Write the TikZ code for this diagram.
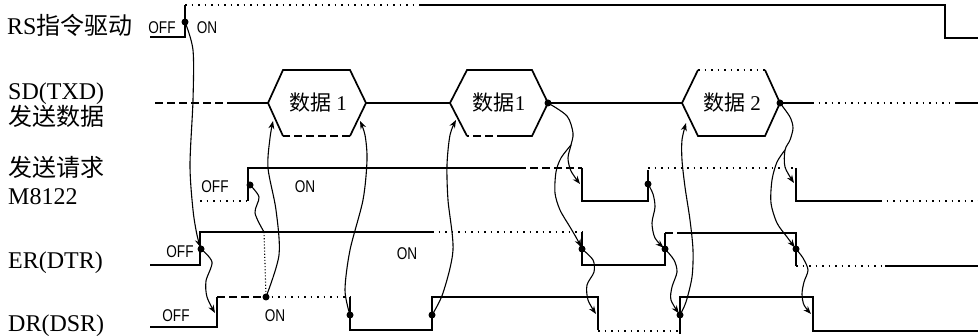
\documentclass[tikz,border=0pt]{standalone}
\usepackage{fontspec}
\setmainfont{Liberation Serif}
\newfontfamily\cjk{Noto Sans CJK SC}
\newfontfamily\sansn[FakeStretch=0.8]{Liberation Sans}
\usetikzlibrary{arrows.meta}
\begin{document}
\begin{tikzpicture}[x=1pt,y=-1pt,
  sig/.style={line width=1.7pt},
  dotsig/.style={line width=1.7pt, dash pattern=on 1.5pt off 5pt},
  dashsig/.style={line width=1.7pt, dash pattern=on 8pt off 4pt},
  conn/.style={line width=1.1pt, -{Stealth[length=8pt,width=6pt]}},
  plainconn/.style={line width=1.1pt},
  dotn/.style={circle, fill=black, inner sep=0pt, minimum size=7pt},
  lab/.style={anchor=base west, inner sep=0pt, font=\fontsize{24}{26}\selectfont},
  st/.style={inner sep=0pt, font=\sansn\fontsize{17}{17}\selectfont},
  dat/.style={inner sep=0pt, font=\fontsize{21}{22}\selectfont}]
\useasboundingbox (0,0) rectangle (978,336);

% ---------- row labels ----------
\node[lab] (lRS) at (7,35) {RS{\cjk 指令驱动}};
\node[lab] (lSD) at (8,100) {SD(TXD)};
\node[lab] (lSD2) at (8,126) {\cjk 发送数据};
\node[lab] (lM) at (8,177) {\cjk 发送请求};
\node[lab] (lM2) at (8,205) {M8122};
\node[lab] (lER) at (8,269) {ER(DTR)};
\node[lab] (lDR) at (8,332) {DR(DSR)};

% ---------- state labels ----------
\node[st] (sRSoff) at (162,28) {OFF};
\node[st] (sRSon) at (207,28) {ON};
\node[st] (sMoff) at (215,187) {OFF};
\node[st] (sMon) at (305,187) {ON};
\node[st] (sERoff) at (180,252) {OFF};
\node[st] (sERon) at (407,254) {ON};
\node[st] (sDRoff) at (176,316) {OFF};
\node[st] (sDRon) at (275,316) {ON};

% ---------- RS ----------
\draw[sig] (150,37) -- (185,37) -- (185,5);
\draw[dotsig] (185,5) -- (420,5);
\draw[sig] (420,5) -- (945,5) -- (945,38) -- (978,38);

% ---------- SD ----------
\draw[dashsig] (155,103) -- (235,103);
\draw[sig] (235,103) -- (268,103);
\draw[sig] (283,136) -- (268,103) -- (283,70) -- (350,70) -- (366,103) -- (350,136);
\draw[dashsig] (350,136) -- (283,136);
\draw[sig] (366,103) -- (450,103);
\draw[sig] (467,136) -- (450,103) -- (467,70) -- (532,70) -- (548,103) -- (532,136) -- (505,136);
\draw[dashsig] (505,136) -- (467,136);
\draw[sig] (548,103) -- (682,103);
\draw[sig] (698,70) -- (682,103) -- (698,136) -- (765,136) -- (780,103) -- (765,70);
\draw[dotsig] (698,70) -- (765,70);
\draw[sig] (780,103) -- (812,103);
\draw[dotsig] (812,103) -- (955,103);
\draw[sig] (955,103) -- (978,103);
\node[dat] (t1) at (318,103) {{\cjk 数据} 1};
\node[dat] (t2) at (499,103) {{\cjk 数据}1};
\node[dat] (t3) at (732,103) {{\cjk 数据} 2};

% ---------- M8122 ----------
\draw[dotsig] (200,201) -- (248,201);
\draw[sig] (248,201) -- (248,168) -- (518,168);
\draw[dashsig] (518,168) -- (582,168);
\draw[sig] (582,168) -- (582,201) -- (648,201) -- (648,170);
\draw[dotsig] (648,168) -- (796,168);
\draw[sig] (796,168) -- (796,201) -- (880,201);
\draw[dotsig] (880,201) -- (978,201);

% ---------- ER ----------
\draw[sig] (150,265) -- (200,265) -- (200,232) -- (432,232);
\draw[dotsig] (432,232) -- (582,232);
\draw[sig] (582,232) -- (582,265) -- (665,265) -- (665,233);
\draw[dashsig] (665,233) -- (680,233);
\draw[sig] (680,233) -- (796,233) -- (796,266);
\draw[dotsig] (796,266) -- (885,266);
\draw[sig] (885,266) -- (978,266);

% ---------- DR ----------
\draw[sig] (150,327) -- (217,327) -- (217,297);
\draw[dashsig] (217,297) -- (265,297);
\draw[dotsig] (265,297) -- (350,297);
\draw[sig] (350,297) -- (350,330) -- (432,330) -- (432,297) -- (598,297) -- (598,330);
\draw[dotsig] (598,331) -- (680,331);
\draw[sig] (680,334) -- (680,297) -- (813,297) -- (813,331) -- (978,331);

% ---------- event dots ----------
\node[dotn] (dRS) at (185,22) {};
\node[dotn] (dER1) at (201,249) {};
\node[dotn] (dM1) at (250,185) {};
\node[dotn] (dDR1) at (266,297) {};
\node[dotn] (dDRf1) at (350,315) {};
\node[dotn] (dDRr2) at (432,315) {};
\node[dotn] (dH2) at (548,103) {};
\node[dotn] (dERf1) at (582,249) {};
\node[dotn] (dM2) at (648,184) {};
\node[dotn] (dER2) at (665,249) {};
\node[dotn] (dDR3) at (680,315) {};
\node[dotn] (dH3) at (780,103) {};
\node[dotn] (dERf2) at (796,249) {};

% arrow targets
\coordinate (h1L) at (273,121);
\coordinate (h1R) at (360,121);
\coordinate (h2L) at (456,120);
\coordinate (h3L) at (686,123);
\coordinate (m1f) at (580,184);
\coordinate (m2f) at (794,183);
\coordinate (dr1r) at (215,313);
\coordinate (dr2f) at (596,314);
\coordinate (dr4f) at (811,314);
\coordinate (erHit) at (264,232);
\coordinate (br1) at (571,145);
\coordinate (br2) at (785,150);

% ---------- connectors ----------
\draw[conn, shorten >=2pt] plot[smooth] coordinates {(dRS.center) (193,50) (193,100) (190,165) (193,210) (197,235) (dER1.center)};
\draw[conn] plot[smooth] coordinates {(dER1.center) (212,262) (206,281) (207,297) (dr1r)};
\draw[plainconn] plot[smooth] coordinates {(dM1.center) (259,197) (255,213) (erHit)};
\draw[line width=1.1pt, dotted] (erHit) -- (dDR1);
\draw[conn] plot[smooth] coordinates {(dDR1.center) (279,255) (276,210) (268,168) (270,138) (h1L)};
\draw[conn] plot[smooth] coordinates {(dDRf1.center) (345,290) (350,250) (363,200) (367,160) (365,135) (h1R)};
\draw[conn] plot[smooth] coordinates {(dDRr2.center) (443,293) (453,250) (448,200) (447,165) (450,135) (h2L)};
\draw[conn] plot[smooth] coordinates {(dH2.center) (567,116) (573,133) (br1) (568,158) (571,171) (m1f)};
\draw[conn, shorten >=2pt] plot[smooth] coordinates {(br1) (561,158) (556,172) (555,193) (560,210) (570,227) (577,239) (dERf1.center)};
\draw[conn] plot[smooth] coordinates {(dERf1.center) (593,260) (594,272) (587,285) (588,300) (dr2f)};
\draw[conn, shorten >=2pt] plot[smooth] coordinates {(dM2.center) (653,194) (655,207) (652,223) (655,238) (dER2.center)};
\draw[conn, shorten >=2pt] plot[smooth] coordinates {(dER2.center) (674,260) (677,272) (672,287) (671,300) (dDR3.center)};
\draw[conn] plot[smooth] coordinates {(dDR3.center) (686,302) (692,277) (693,250) (690,220) (685,187) (682,160) (682,140) (h3L)};
\draw[conn] plot[smooth] coordinates {(dH3.center) (790,117) (793,128) (790,140) (br2) (785,167) (m2f)};
\draw[conn, shorten >=2pt] plot[smooth] coordinates {(br2) (777,162) (772,180) (771,203) (777,223) (787,237) (dERf2.center)};
\draw[conn] plot[smooth] coordinates {(dERf2.center) (803,258) (808,270) (804,282) (802,294) (804,305) (dr4f)};
\end{tikzpicture}
\end{document}
